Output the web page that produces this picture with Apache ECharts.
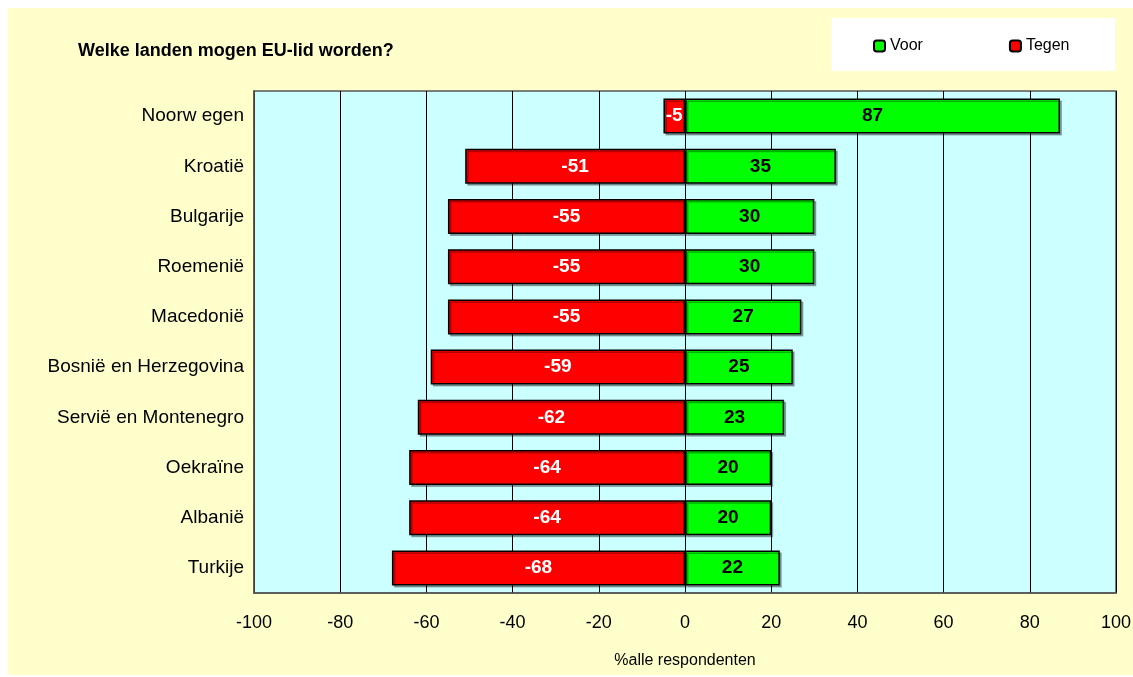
<!DOCTYPE html>
<html>
<head>
<meta charset="utf-8">
<script src="https://cdn.jsdelivr.net/npm/echarts@6/dist/echarts.min.js"></script>
<style>
html,body{margin:0;padding:0;background:#fff;}
#bg{position:absolute;left:8px;top:8px;width:1125px;height:667px;background:#FFFFCC;}
#chart{position:absolute;left:0;top:0;width:1133px;height:677px;}
</style>
</head>
<body>
<div id="bg"></div>
<div id="chart"></div>
<script>
const categories = ['Noorw egen','Kroatië','Bulgarije','Roemenië','Macedonië','Bosnië en Herzegovina','Servië en Montenegro','Oekraïne','Albanië','Turkije'];
const voor = [87,35,30,30,27,25,23,20,20,22];
const tegen = [-5,-51,-55,-55,-55,-59,-62,-64,-64,-68];
const xTicks = {min:-100, max:100, interval:20};

const chart = echarts.init(document.getElementById('chart'), null, {renderer:'canvas'});
const font = 'Arial, "Liberation Sans", sans-serif';
chart.setOption({
  backgroundColor:'transparent',
  animation:false,
  title:{text:'Welke landen mogen EU-lid worden?', left:73, top:37,
    textStyle:{fontFamily:font, fontSize:18, fontWeight:'bold', color:'#000'}},
  graphic:[{type:'rect', left:831, top:18, shape:{width:284, height:53}, style:{fill:'#fff'}, z:-1}],
  legend:{left:868, top:33, itemWidth:11, itemHeight:11, itemGap:86,
    data:['Voor','Tegen'],
    textStyle:{fontFamily:font, fontSize:16, color:'#000', padding:[0,0,0,0]}},
  grid:{left:254, right:17, top:91, bottom:84, show:true, outerBoundsMode:'none', containLabel:false,
    backgroundColor:'#CCFFFF', borderColor:'#555', borderWidth:1.5},
  xAxis:{type:'value', min:xTicks.min, max:xTicks.max, interval:xTicks.interval,
    name:'%alle respondenten', nameLocation:'middle', nameGap:60,
    nameTextStyle:{fontFamily:font, fontSize:16, color:'#000'},
    axisLine:{show:true, onZero:false, lineStyle:{color:'#555', width:1.5}},
    axisTick:{show:false},
    axisLabel:{fontFamily:font, fontSize:18, color:'#000', margin:21},
    splitLine:{show:true, lineStyle:{color:'#000', width:1}}},
  yAxis:{type:'category', data:categories, inverse:true,
    axisLine:{show:true, onZero:false, lineStyle:{color:'#555', width:1.5}},
    axisTick:{show:false},
    axisLabel:{fontFamily:font, fontSize:19, color:'#000', margin:10},
    splitLine:{show:false}},
  series:[
    {name:'Voor', type:'bar', data:voor, barWidth:35, barGap:'-100%',
      itemStyle:{color:'#00FF00', borderColor:'#000', borderWidth:1.5, shadowColor:'rgba(0,0,0,0.3)', shadowOffsetX:2, shadowOffsetY:2},
      label:{show:true, position:'inside', fontFamily:font, fontSize:19, fontWeight:'bold', color:'#000'}},
    {name:'Tegen', type:'bar', data:tegen, barWidth:35,
      itemStyle:{color:'#FF0000', borderColor:'#000', borderWidth:1.5, shadowColor:'rgba(0,0,0,0.3)', shadowOffsetX:2, shadowOffsetY:2},
      label:{show:true, position:'inside', fontFamily:font, fontSize:19, fontWeight:'bold', color:'#fff'}}
  ]
});
</script>
</body>
</html>
